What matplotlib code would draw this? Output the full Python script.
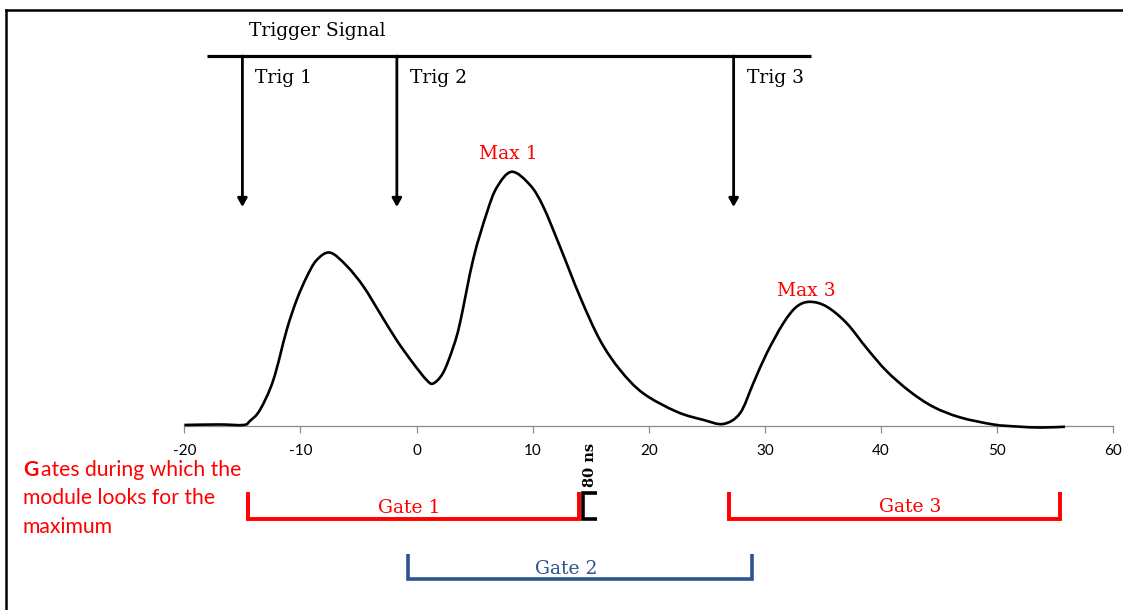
import matplotlib
matplotlib.use("Agg")
import matplotlib.pyplot as plt
from matplotlib.lines import Line2D
from matplotlib.path import Path
from matplotlib.patches import PathPatch

plt.rcParams['axes.unicode_minus'] = False

# ---- data ----
time_ns = [-20.0, -17.0, -14.9, -14.35, -13.49, -12.34, -11.19, -10.33, -9.46, -8.60,
           -7.45, -6.02, -4.59, -3.15, -1.71, -0.28, 0.87, 1.44, 2.30, 3.16,
           3.74, 4.88, 6.04, 6.90, 8.19, 9.77, 10.91, 12.35, 14.07, 15.79,
           17.52, 19.52, 22.40, 24.69, 26.41, 27.85, 28.99, 30.15, 31.58, 32.73,
           33.88, 35.32, 37.04, 38.76, 40.48, 42.49, 44.50, 46.79, 49.66, 51.68,
           53.68, 55.84]
signal = [0.004, 0.006, 0.004, 0.02, 0.063, 0.18, 0.376, 0.494, 0.585, 0.651,
          0.68, 0.628, 0.548, 0.442, 0.336, 0.245, 0.18, 0.167, 0.21, 0.31,
          0.405, 0.655, 0.835, 0.935, 0.997, 0.945, 0.86, 0.703, 0.507, 0.337,
          0.22, 0.128, 0.056, 0.024, 0.008, 0.05, 0.167, 0.285, 0.403, 0.468,
          0.487, 0.468, 0.403, 0.305, 0.215, 0.135, 0.075, 0.034, 0.006, -0.002,
          -0.006, -0.003]
x_ticks = [-20, -10, 0, 10, 20, 30, 40, 50, 60]
trig_times = [-15.0, -1.7, 27.3]
trig_labels = ["Trig 1", "Trig 2", "Trig 3"]
gate_starts = [-14.5, -0.7, 26.9]
gate_ends = [14.0, 28.9, 55.4]
gate_labels = ["Gate 1", "Gate 2", "Gate 3"]
max_labels = ["Max 1", "Max 3"]
max_times = [8.19, 33.88]

# ---- figure ----
W, H = 1123, 610
fig = plt.figure(figsize=(W / 100, H / 100), dpi=100)
ax = fig.add_axes([0, 0, 1, 1])
px_per_x = (1113 - 184) / 80.0
px_per_y = 255.0
x0_px, y0_px = 416.6, 426.0
ax.set_xlim(-x0_px / px_per_x, (W - x0_px) / px_per_x)
ax.set_ylim(-(H - y0_px) / px_per_y, y0_px / px_per_y)


def X(px):
    return (px - x0_px) / px_per_x


def Y(py):
    return (y0_px - py) / px_per_y


serif = "DejaVu Serif"
sans = "Lato"
red = "#FF0000"
blue = "#2F5290"

# axis
for s in ['top', 'right', 'left']:
    ax.spines[s].set_visible(False)
ax.spines['bottom'].set_position(('data', 0))
ax.spines['bottom'].set_bounds(-20, 60)
ax.spines['bottom'].set_color('#8C8C8C')
ax.spines['bottom'].set_linewidth(0.9)
ax.set_xticks(x_ticks)
ax.set_xticklabels([str(t) for t in x_ticks], fontfamily=sans)
ax.set_yticks([])
ax.tick_params(axis='x', direction='out', length=5, color='#8C8C8C', width=0.9,
               labelsize=11, pad=8, labelcolor='black')

# signal: smoothed line through the points (Catmull-Rom as cubic Bezier)
pts = list(zip(time_ns, signal))
verts = [pts[0]]
codes = [Path.MOVETO]
n = len(pts)
for i in range(n - 1):
    p0 = pts[i - 1] if i > 0 else pts[i]
    p1 = pts[i]
    p2 = pts[i + 1]
    p3 = pts[i + 2] if i + 2 < n else pts[i + 1]
    c1 = (p1[0] + (p2[0] - p0[0]) / 6.0, p1[1] + (p2[1] - p0[1]) / 6.0)
    c2 = (p2[0] - (p3[0] - p1[0]) / 6.0, p2[1] - (p3[1] - p1[1]) / 6.0)
    verts += [c1, c2, p2]
    codes += [Path.CURVE4, Path.CURVE4, Path.CURVE4]
ax.add_patch(PathPatch(Path(verts, codes), facecolor='none', edgecolor='black',
                       lw=1.9, joinstyle='round', zorder=3))

# trigger signal
y_trig = Y(56)
y_tip = Y(207)
ax.plot([X(207), X(811)], [y_trig, y_trig], color='black', lw=2.3, solid_capstyle='butt')
ax.text(X(249), Y(31), "Trigger Signal", fontfamily=serif, fontsize=13.5,
        va='center', ha='left')
for t, lab in zip(trig_times, trig_labels):
    ax.annotate('', xy=(t, y_tip), xytext=(t, y_trig),
                arrowprops=dict(arrowstyle='-|>,head_length=0.5,head_width=0.28',
                                lw=2.0, color='black', shrinkA=0, shrinkB=0))
    ax.text(t + 13 / px_per_x, Y(78), lab, fontfamily=serif, fontsize=13.5,
            va='center', ha='left')

# max labels
max_rows = [154, 291]
for lab, t, r in zip(max_labels, max_times, max_rows):
    ax.text(t - 0.3, Y(r), lab, color=red, fontfamily=serif,
            fontsize=13.5, ha='center', va='center')

# gates
gate_top = [Y(492), Y(554), Y(492)]
gate_bot = [Y(518.5), Y(579), Y(518.5)]
gate_col = [red, blue, red]
gate_lw = [2.8, 2.6, 2.8]
gate_lab_y = [Y(508), Y(569), Y(507)]
gate_lab_x = [X(409), X(566.5), X(910)]
for i in range(3):
    a, b = gate_starts[i], gate_ends[i]
    ax.plot([a, a, b, b], [gate_top[i], gate_bot[i], gate_bot[i], gate_top[i]],
            color=gate_col[i], lw=gate_lw[i], solid_joinstyle='miter', solid_capstyle='butt')
    ax.text(gate_lab_x[i], gate_lab_y[i], gate_labels[i], color=gate_col[i],
            fontfamily=serif, fontsize=13.5, ha='center', va='center')

# 80 ns bracket
ax.plot([X(597), X(583), X(583), X(597)], [Y(493), Y(493), Y(519), Y(519)],
        color='black', lw=2.6, solid_joinstyle='miter', solid_capstyle='butt')
ax.text(X(590), Y(465), "80 ns", rotation=90, fontfamily=serif, fontweight='bold',
        fontsize=10.5, ha='center', va='center')

# side note
note_x = X(23)
fs_note = 15.2
ax.text(note_x, Y(470), "G", color=red, fontfamily=sans, fontweight='bold',
        fontsize=fs_note, ha='left', va='center')
ax.annotate("ates during which the", xy=(note_x, Y(470)),
            xytext=(fs_note * 0.84, 0), textcoords='offset points', color=red,
            fontfamily=sans, fontsize=fs_note, ha='left', va='center')
ax.text(note_x, Y(498), "module looks for the", color=red,
        fontfamily=sans, fontsize=fs_note, ha='left', va='center')
ax.text(note_x, Y(527), "maximum", color=red,
        fontfamily=sans, fontsize=fs_note, ha='left', va='center')

# outer frame (left and top edges visible)
fig.add_artist(Line2D([6 / W, 6 / W], [0, 1 - 10 / H], transform=fig.transFigure,
                      color='black', lw=1.8, solid_capstyle='projecting'))
fig.add_artist(Line2D([6 / W, 1], [1 - 10 / H, 1 - 10 / H], transform=fig.transFigure,
                      color='black', lw=1.8, solid_capstyle='projecting'))

fig.savefig("out.png", dpi=100, facecolor='white')
